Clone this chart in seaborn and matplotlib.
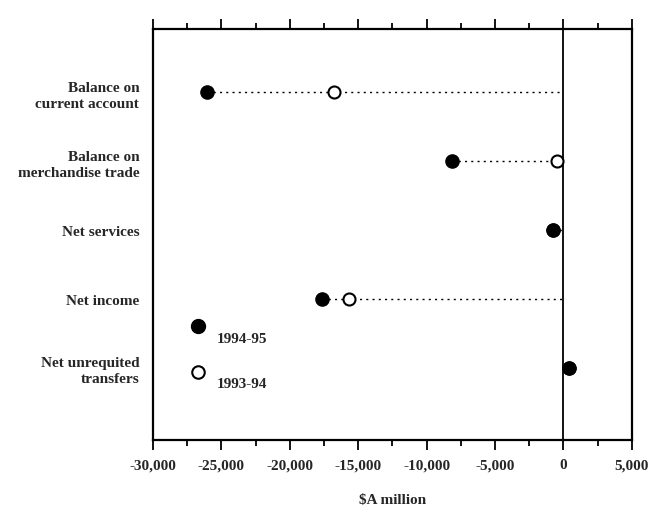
import numpy as np
import pandas as pd
import matplotlib
matplotlib.use("Agg")
import matplotlib.pyplot as plt
import seaborn as sns
from matplotlib.lines import Line2D
from matplotlib.ticker import MultipleLocator, FuncFormatter

categories = ["Balance on\ncurrent account", "Balance on\nmerchandise trade",
              "Net services", "Net income", "Net unrequited\ntransfers"]
values_9495 = [-26050, -8150, -750, -17650, 400]
values_9394 = [-16800, -480, -750, -15700, 400]
years = ["1994-95", "1993-94"]

df = pd.DataFrame({
    "category": categories * 2,
    "pos": list(range(len(categories))) * 2,
    "value": values_9495 + values_9394,
    "year": [years[0]] * len(categories) + [years[1]] * len(categories),
})

sns.set_style("white")
plt.rcParams["font.family"] = ["Liberation Serif", "DejaVu Serif"]

fig = plt.figure(figsize=(6.54, 5.10), dpi=100)
ax = fig.add_axes([0.234, 0.135, 0.732, 0.806])

# dotted leader lines from zero to the furthest point
lo = df.groupby("pos")["value"].min()
ax.hlines(lo.index, lo.values, 0, colors="black", linestyles=(0, (1.5, 3)), linewidth=1, zorder=1)
ax.axvline(0, color="black", linewidth=1.3, zorder=1)

# open markers first, filled on top
sns.scatterplot(data=df[df.year == years[1]], x="value", y="pos", ax=ax, s=75,
                color="white", edgecolor="black", linewidth=1.5, zorder=3, legend=False)
sns.scatterplot(data=df[df.year == years[0]], x="value", y="pos", ax=ax, s=90,
                color="black", edgecolor="black", linewidth=1, zorder=4, legend=False)

ax.set_xlim(-30000, 5000)
ax.set_ylim(5.05, -0.92)
ax.set_yticks(range(len(categories)))
ax.set_yticklabels(categories, fontsize=11, fontweight="bold", ha="right", linespacing=1.3)
ax.tick_params(axis="y", length=0, pad=10)

ax.xaxis.set_major_locator(MultipleLocator(5000))
ax.xaxis.set_minor_locator(MultipleLocator(2500))
ax.xaxis.set_major_formatter(FuncFormatter(lambda v, p: f"{int(v):,}"))
ax.tick_params(axis="x", which="both", direction="out", top=True, bottom=True,
               labeltop=False, color="black", width=1.3)
ax.tick_params(axis="x", which="major", length=7, labelsize=11, pad=6)
ax.tick_params(axis="x", which="minor", length=4)
for lab in ax.get_xticklabels():
    lab.set_fontweight("bold")
ax.set_xlabel("$A million", fontsize=11, fontweight="bold", labelpad=16)
ax.set_ylabel("")

for sp in ax.spines.values():
    sp.set_visible(True)
    sp.set_color("black")
    sp.set_linewidth(1.6)

handles = [
    Line2D([], [], marker="o", color="black", markerfacecolor="black", linestyle="none", markersize=10),
    Line2D([], [], marker="o", color="black", markerfacecolor="white", markeredgewidth=1.5,
           linestyle="none", markersize=9),
]
leg = ax.legend(handles, years, loc="upper left", bbox_to_anchor=(0.05, 0.305), frameon=False,
                labelspacing=2.1, handletextpad=0.2, borderaxespad=0,
                prop={"size": 11, "weight": "bold"})
for t in leg.get_texts():
    t.set_va("top")

fig.savefig("out.png", dpi=100, facecolor="white")
